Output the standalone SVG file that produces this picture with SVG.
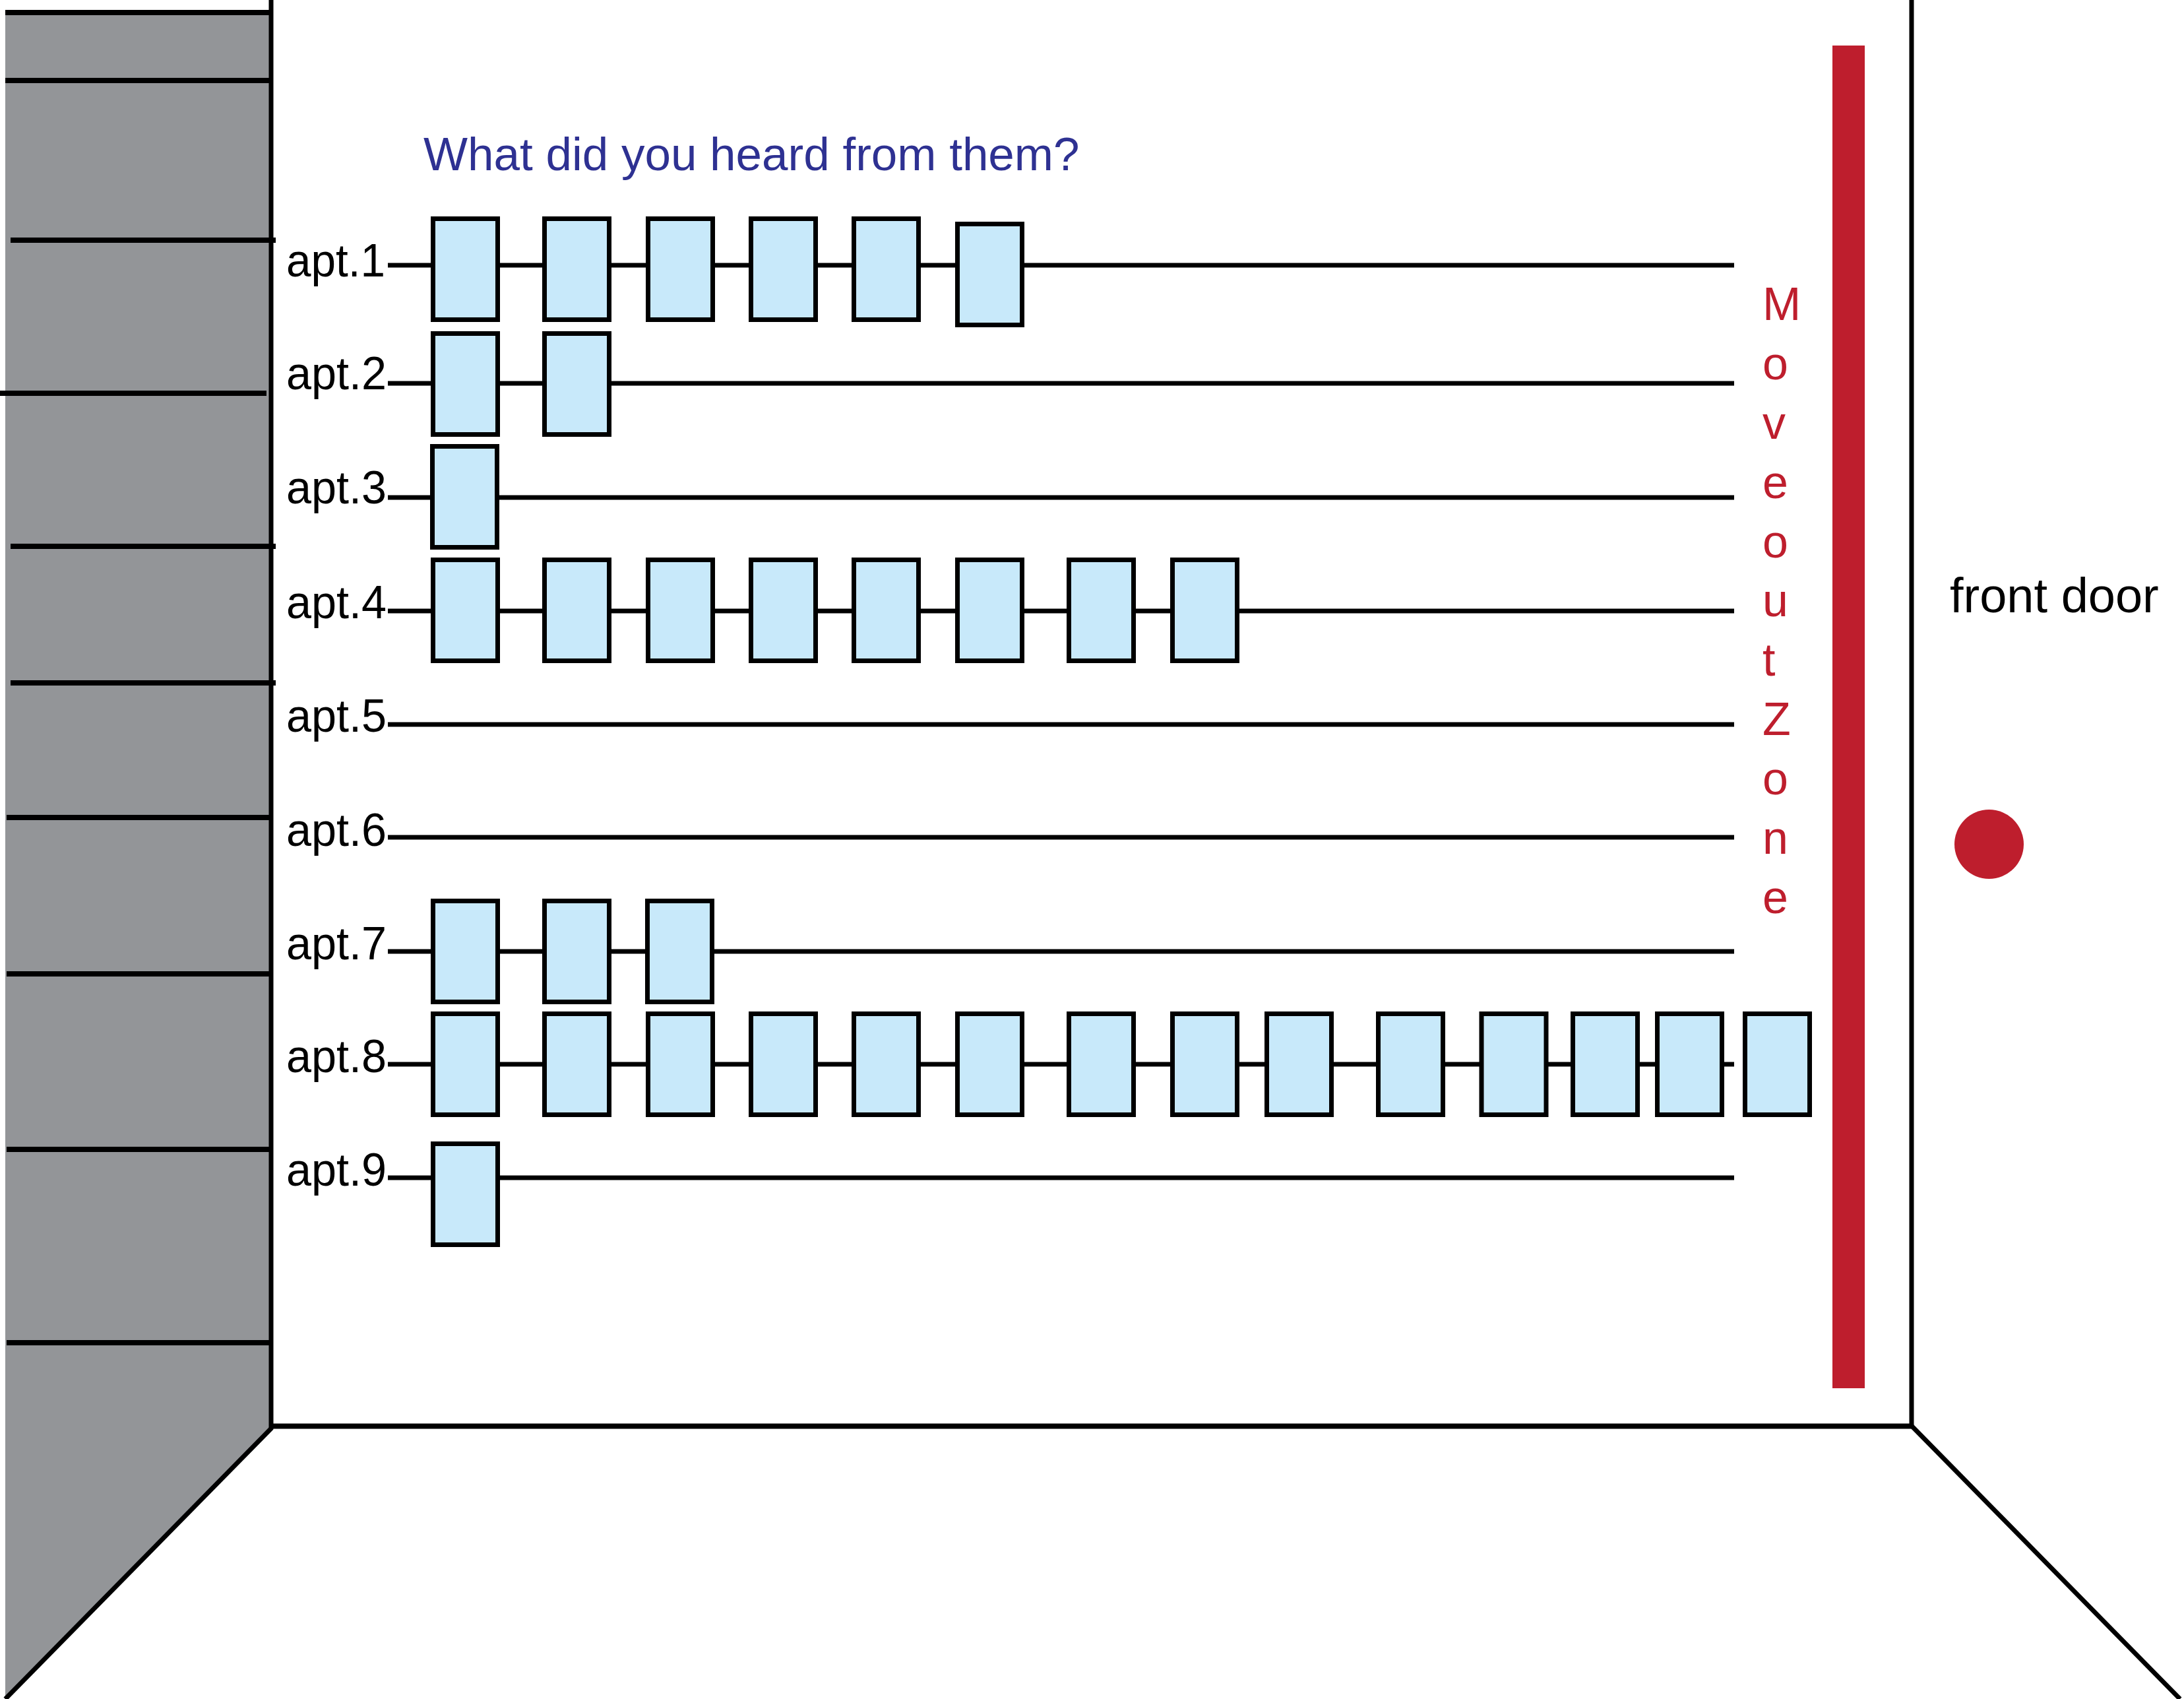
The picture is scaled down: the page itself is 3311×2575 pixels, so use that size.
<svg xmlns="http://www.w3.org/2000/svg" width="3311" height="2575" viewBox="0 0 3311 2575">
<style>
.wall{fill:none;stroke:#000;stroke-width:7}
.shelf{fill:none;stroke:#000;stroke-width:8}
.conn{fill:none;stroke:#000;stroke-width:7}
.box{fill:#C8E9FA;stroke:#000;stroke-width:7}
.lbl{font-family:"Liberation Sans",Arial,sans-serif;font-size:71px;fill:#000}
.title{font-family:"Liberation Sans",Arial,sans-serif;font-size:71px;fill:#2E3192}
.zone{font-family:"Liberation Sans",Arial,sans-serif;font-size:70px;fill:#BE1E2D}
.door{font-family:"Liberation Sans",Arial,sans-serif;font-size:74px;fill:#000}
</style>
<defs>
<rect id="b" width="98" height="153" class="box"/>
</defs>
<rect width="3311" height="2575" fill="#fff"/>
<g id="side-wall">
<polygon points="8,19 411,19 411,2166 8,2575" fill="#939598"/>
<line class="shelf" x1="8" y1="19" x2="410" y2="19"/>
<line class="shelf" x1="8" y1="122" x2="408" y2="122"/>
<line class="shelf" x1="16" y1="364" x2="418" y2="364"/>
<line class="shelf" x1="0" y1="596" x2="404" y2="596"/>
<line class="shelf" x1="16" y1="828" x2="418" y2="828"/>
<line class="shelf" x1="16" y1="1035" x2="418" y2="1035"/>
<line class="shelf" x1="10" y1="1239" x2="410" y2="1239"/>
<line class="shelf" x1="10" y1="1476" x2="410" y2="1476"/>
<line class="shelf" x1="10" y1="1742" x2="410" y2="1742"/>
<line class="shelf" x1="10" y1="2035" x2="410" y2="2035"/>
</g>
<g id="room">
<line class="wall" x1="411" y1="0" x2="411" y2="2166"/>
<line class="wall" x1="2898" y1="0" x2="2898" y2="2161"/>
<line class="shelf" x1="412" y1="2161.5" x2="2898" y2="2161.5"/>
<line class="wall" x1="412" y1="2164" x2="8" y2="2575"/>
<line class="wall" x1="2898" y1="2161" x2="3305" y2="2575"/>
</g>
<g id="move-out-zone">
<rect x="2778" y="69" width="49" height="2035" fill="#BE1E2D"/>
<text class="zone"><tspan x="2672" y="485">M</tspan><tspan x="2672" y="575">o</tspan><tspan x="2672" y="665">v</tspan><tspan x="2672" y="755">e</tspan><tspan x="2672" y="845">o</tspan><tspan x="2672" y="934">u</tspan><tspan x="2672" y="1024">t</tspan><tspan x="2672" y="1114">Z</tspan><tspan x="2672" y="1204">o</tspan><tspan x="2672" y="1294">n</tspan><tspan x="2672" y="1384">e</tspan></text>
</g>
<g id="front-door">
<text class="door" x="2956" y="928">front door</text>
<circle cx="3015.5" cy="1279.5" r="52.5" fill="#BE1E2D"/>
</g>
<g id="title">
<text class="title" x="642" y="258">What did you heard from them?</text>
</g>
<g id="connectors">
<line class="conn" x1="588" y1="402" x2="2629" y2="402"/>
<line class="conn" x1="588" y1="581" x2="2629" y2="581"/>
<line class="conn" x1="588" y1="754" x2="2629" y2="754"/>
<line class="conn" x1="588" y1="926" x2="2629" y2="926"/>
<line class="conn" x1="588" y1="1098" x2="2629" y2="1098"/>
<line class="conn" x1="588" y1="1269" x2="2629" y2="1269"/>
<line class="conn" x1="588" y1="1442" x2="2629" y2="1442"/>
<line class="conn" x1="588" y1="1613" x2="2629" y2="1613"/>
<line class="conn" x1="588" y1="1785" x2="2629" y2="1785"/>
</g>
<g id="apt1">
<text class="lbl" x="434" y="419" textLength="150" lengthAdjust="spacingAndGlyphs">apt.1</text>
<use href="#b" x="656.5" y="331.5"/><use href="#b" x="825.5" y="331.5"/><use href="#b" x="982.5" y="331.5"/><use href="#b" x="1138.5" y="331.5"/><use href="#b" x="1294.5" y="331.5"/><use href="#b" x="1451.5" y="339.5"/>
</g>
<g id="apt2">
<text class="lbl" x="434" y="590" textLength="152" lengthAdjust="spacingAndGlyphs">apt.2</text>
<use href="#b" x="656.5" y="505.5"/><use href="#b" x="825.5" y="505.5"/>
</g>
<g id="apt3">
<text class="lbl" x="434" y="763" textLength="152" lengthAdjust="spacingAndGlyphs">apt.3</text>
<use href="#b" x="655.5" y="676.5"/>
</g>
<g id="apt4">
<text class="lbl" x="434" y="937" textLength="152" lengthAdjust="spacingAndGlyphs">apt.4</text>
<use href="#b" x="656.5" y="848.5"/><use href="#b" x="825.5" y="848.5"/><use href="#b" x="982.5" y="848.5"/><use href="#b" x="1138.5" y="848.5"/><use href="#b" x="1294.5" y="848.5"/><use href="#b" x="1451.5" y="848.5"/><use href="#b" x="1620.5" y="848.5"/><use href="#b" x="1777.5" y="848.5"/>
</g>
<g id="apt5">
<text class="lbl" x="434" y="1109" textLength="152" lengthAdjust="spacingAndGlyphs">apt.5</text>
</g>
<g id="apt6">
<text class="lbl" x="434" y="1282" textLength="152" lengthAdjust="spacingAndGlyphs">apt.6</text>
</g>
<g id="apt7">
<text class="lbl" x="434" y="1454" textLength="152" lengthAdjust="spacingAndGlyphs">apt.7</text>
<use href="#b" x="656.5" y="1365.5"/><use href="#b" x="825.5" y="1365.5"/><use href="#b" x="981.5" y="1365.5"/>
</g>
<g id="apt8">
<text class="lbl" x="434" y="1625" textLength="152" lengthAdjust="spacingAndGlyphs">apt.8</text>
<use href="#b" x="656.5" y="1536.5"/><use href="#b" x="825.5" y="1536.5"/><use href="#b" x="982.5" y="1536.5"/><use href="#b" x="1138.5" y="1536.5"/><use href="#b" x="1294.5" y="1536.5"/><use href="#b" x="1451.5" y="1536.5"/><use href="#b" x="1620.5" y="1536.5"/><use href="#b" x="1777.5" y="1536.5"/><use href="#b" x="1920.5" y="1536.5"/><use href="#b" x="2089.5" y="1536.5"/><use href="#b" x="2246" y="1536.5"/><use href="#b" x="2384.5" y="1536.5"/><use href="#b" x="2512.5" y="1536.5"/><use href="#b" x="2645.5" y="1536.5"/>
</g>
<g id="apt9">
<text class="lbl" x="434" y="1797" textLength="152" lengthAdjust="spacingAndGlyphs">apt.9</text>
<use href="#b" x="656.5" y="1733.5"/>
</g>
</svg>
